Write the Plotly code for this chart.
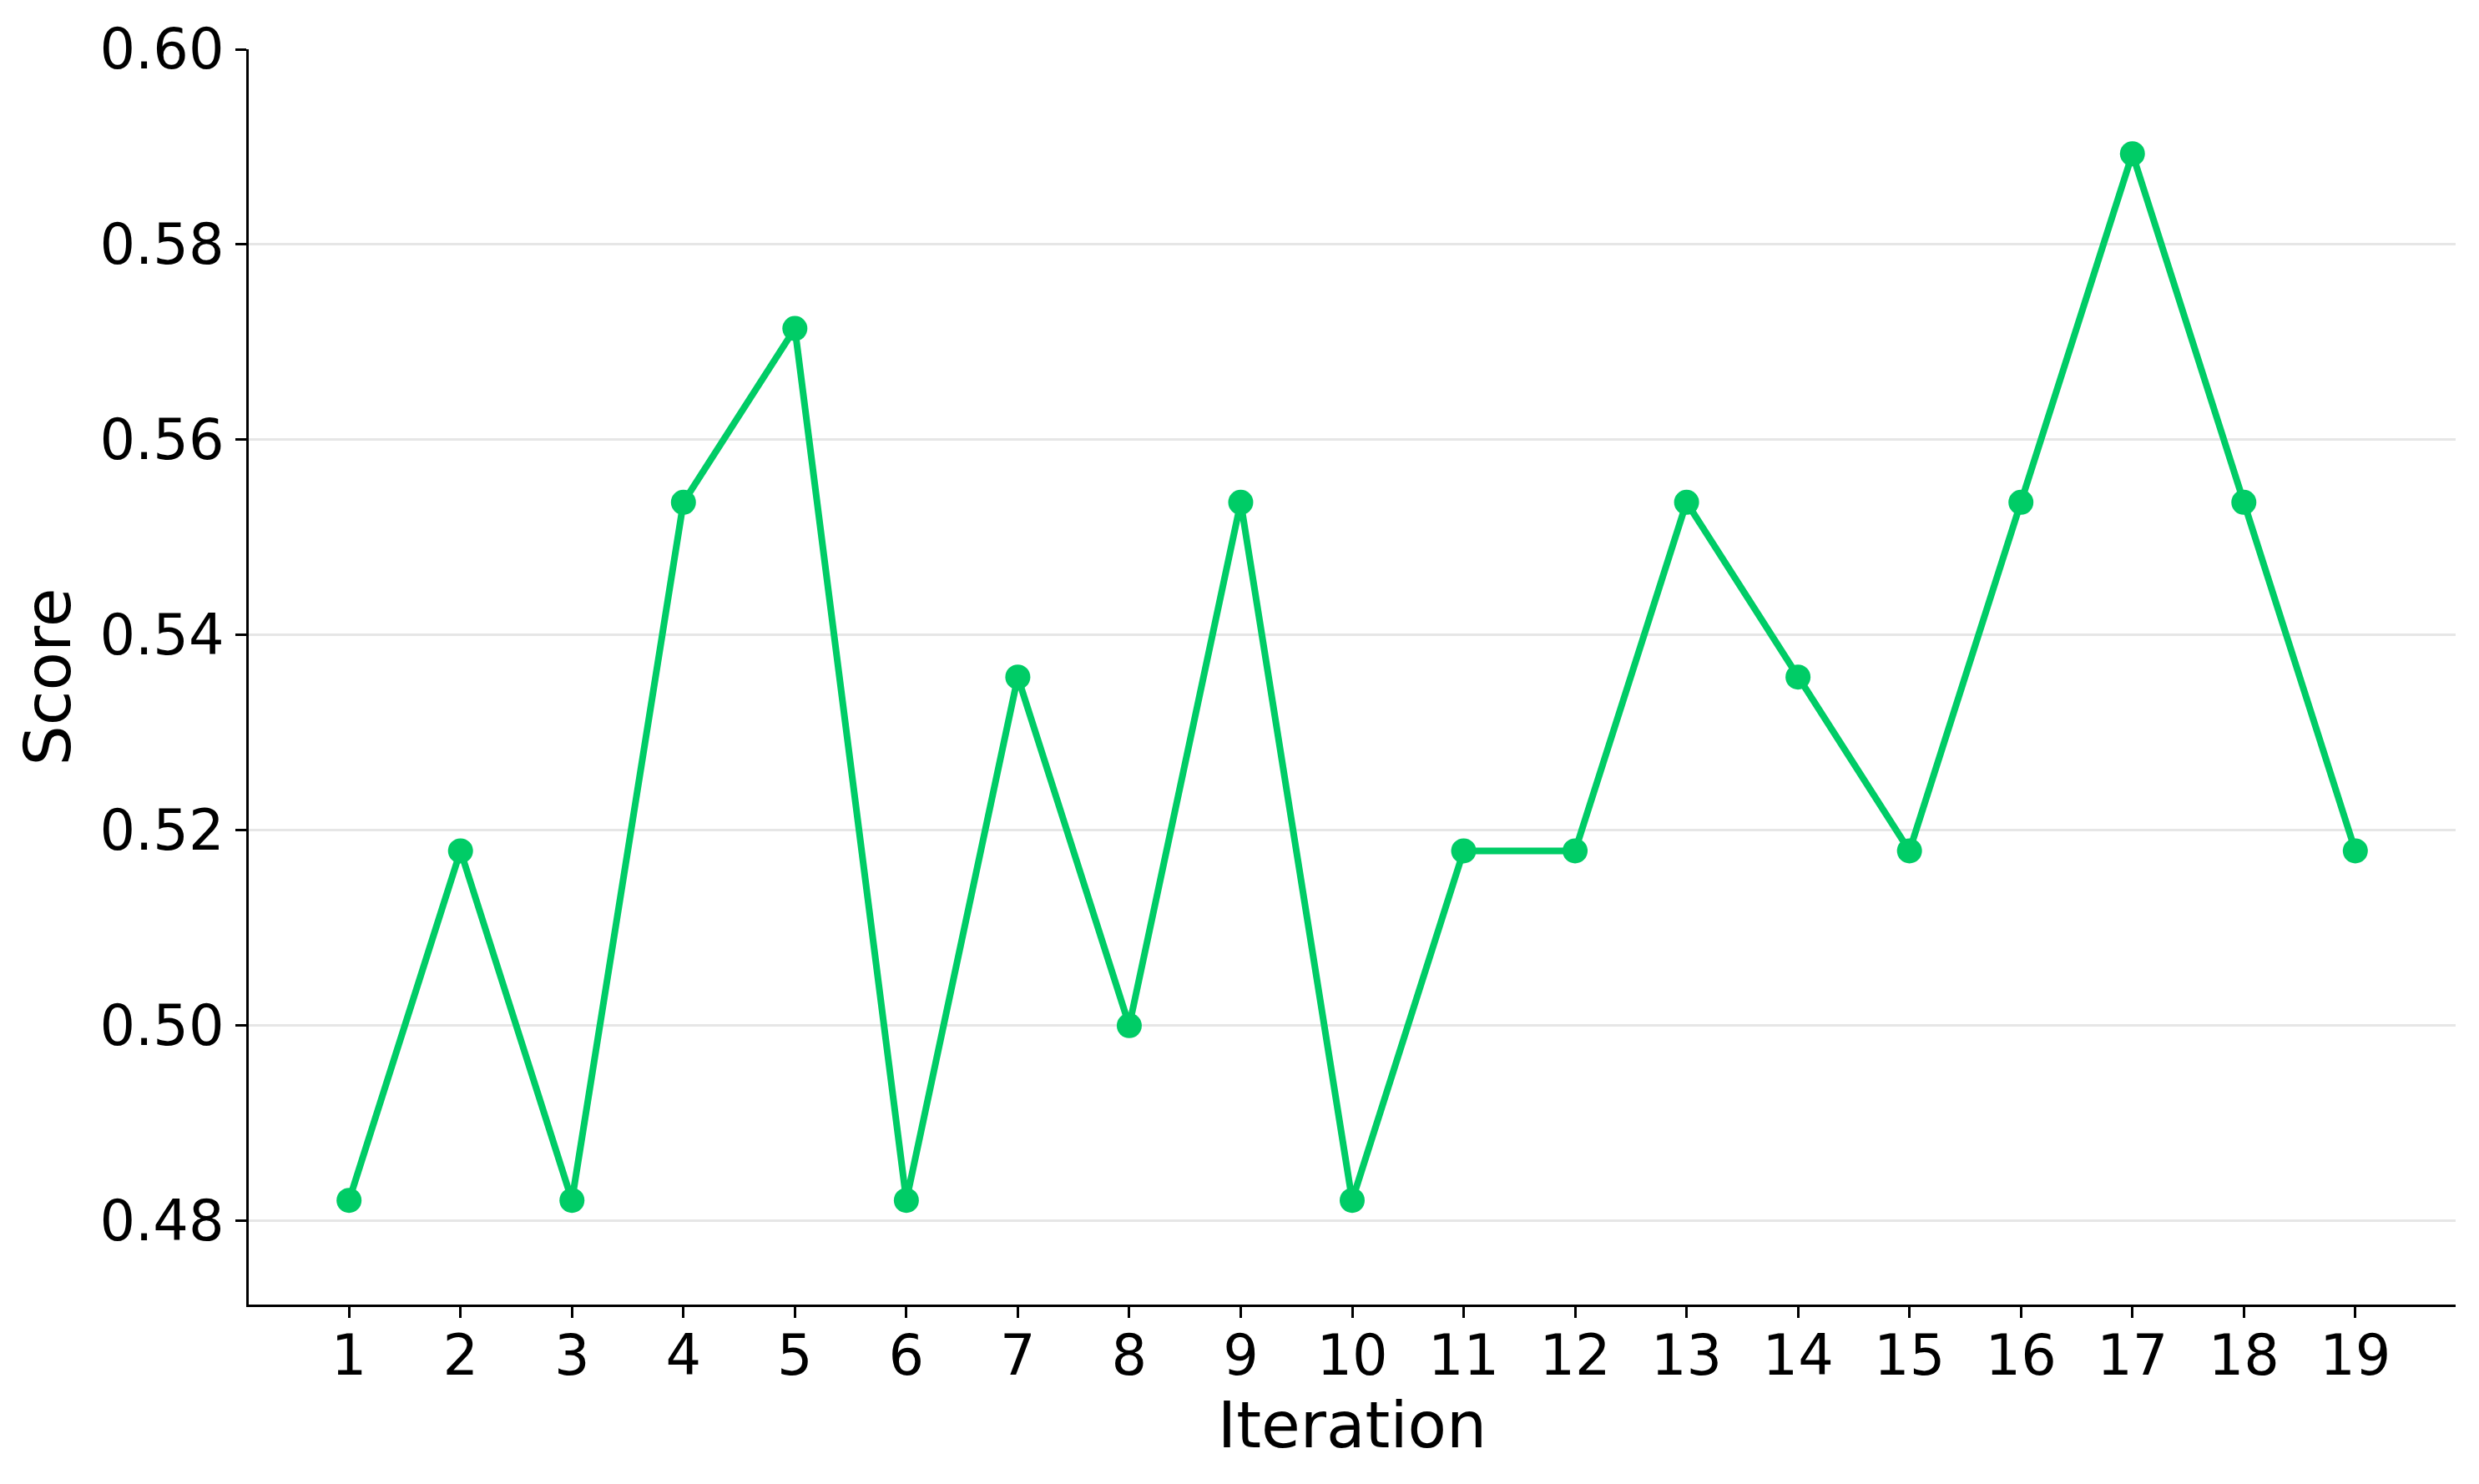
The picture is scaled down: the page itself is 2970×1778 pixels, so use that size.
import plotly.graph_objects as go

iterations = list(range(1, 20))
scores = [0.4821, 0.5179, 0.4821, 0.5536, 0.5714, 0.4821, 0.5357, 0.5000, 0.5536, 0.4821,
          0.5179, 0.5179, 0.5536, 0.5357, 0.5179, 0.5536, 0.5893, 0.5536, 0.5179]
y_ticks = [0.48, 0.50, 0.52, 0.54, 0.56, 0.58, 0.60]

GREEN = "rgb(0,204,102)"
FONT = "DejaVu Sans"

fig = go.Figure()
fig.add_trace(go.Scatter(
    x=iterations, y=scores, mode="lines+markers",
    line=dict(color=GREEN, width=8),
    marker=dict(color=GREEN, size=30),
    showlegend=False,
))

fig.update_layout(
    width=2970, height=1778,
    paper_bgcolor="white", plot_bgcolor="white",
    margin=dict(l=290, r=36, t=49, b=223),
    font=dict(family=FONT, size=67, color="black"),
)
fig.update_xaxes(
    range=[0.1, 19.9], tickmode="array", tickvals=iterations,
    ticktext=[str(i) for i in iterations],
    showgrid=False, zeroline=False,
    showline=True, linecolor="black", linewidth=3,
    ticks="outside", ticklen=13, tickwidth=3, tickcolor="black",
    tickfont=dict(family=FONT, size=67),
    ticklabelstandoff=-12,
    title=dict(text="Iteration", font=dict(family=FONT, size=76), standoff=12),
)
fig.update_yaxes(
    range=[0.47143, 0.600], tickmode="array", tickvals=y_ticks,
    ticktext=[f"{v:.2f}" for v in y_ticks],
    showgrid=True, gridcolor="#e6e6e6", gridwidth=3, zeroline=False,
    showline=True, linecolor="black", linewidth=3,
    ticks="outside", ticklen=13, tickwidth=3, tickcolor="black",
    tickfont=dict(family=FONT, size=67),
    title=dict(text="Score", font=dict(family=FONT, size=76), standoff=10),
)

fig.write_html("out.html")
